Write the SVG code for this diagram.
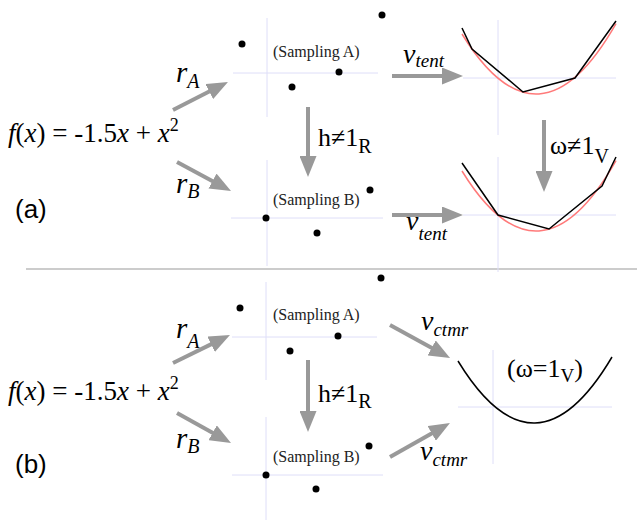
<svg xmlns="http://www.w3.org/2000/svg" width="637" height="520" viewBox="0 0 637 520">
<style>
.serif{font-family:"Liberation Serif","Times New Roman",serif;fill:#000}
.sans{font-family:"Liberation Sans",Arial,sans-serif;fill:#000}
.it{font-style:italic}
.samp{font-family:"Liberation Serif","Times New Roman",serif;font-size:16px;fill:#222}
.axis{stroke:#dedef8;stroke-width:1;fill:none}
.arr{stroke:#999;stroke-width:4;fill:none;marker-end:url(#ah)}
.dot{fill:#000}
.red{stroke:#ff7a7a;stroke-width:1.5;fill:none}
.blk{stroke:#000;stroke-width:1.5;fill:none}
</style>
<defs>
<marker id="ah" viewBox="0 -8.5 21 17" markerWidth="21" markerHeight="17" refX="6" refY="0" markerUnits="userSpaceOnUse" orient="auto">
<path d="M0,-8.5 L21,0 L0,8.5 z" fill="#999"/>
</marker>
</defs>
<rect width="637" height="520" fill="#fff"/>

<!-- separator -->
<line x1="26" y1="269" x2="637" y2="269" stroke="#ccc" stroke-width="2"/>

<!-- ===== Panel (a) ===== -->
<g id="a-func">
<text class="serif" x="8" y="142" font-size="27"><tspan class="it">f</tspan>(<tspan class="it">x</tspan>) = -1.5<tspan class="it">x</tspan> + <tspan class="it">x</tspan><tspan font-size="18" dy="-11">2</tspan></text>
</g>
<g id="a-label"><text class="sans" x="15" y="218" font-size="26">(a)</text></g>

<g id="a-sampA">
<line class="axis" x1="267" y1="18" x2="267" y2="117"/>
<line class="axis" x1="233" y1="73" x2="378" y2="73"/>
<circle class="dot" cx="242" cy="44" r="3.5"/>
<circle class="dot" cx="382" cy="15" r="3.5"/>
<circle class="dot" cx="339" cy="72" r="3.5"/>
<circle class="dot" cx="292" cy="87" r="3.5"/>
<text class="samp" x="273" y="57">(Sampling A)</text>
</g>

<g id="a-sampB">
<line class="axis" x1="267" y1="160" x2="267" y2="266"/>
<line class="axis" x1="231" y1="218" x2="383" y2="218"/>
<circle class="dot" cx="266" cy="218" r="3.5"/>
<circle class="dot" cx="370" cy="190" r="3.5"/>
<circle class="dot" cx="317" cy="233" r="3.5"/>
<text class="samp" x="273" y="205">(Sampling B)</text>
</g>

<g id="a-curveA">
<line class="axis" x1="498" y1="20" x2="498" y2="135"/>
<line class="axis" x1="463" y1="78" x2="616" y2="78"/>
<path class="red" d="M462,34 Q539,159 616,23.6"/>
<polyline class="blk" points="462,28 472,49 523,92 575,78 616,21"/>
</g>

<g id="a-curveB">
<line class="axis" x1="498" y1="157" x2="498" y2="272"/>
<line class="axis" x1="463" y1="215" x2="616" y2="215"/>
<path class="red" d="M462,171 Q539,296 616,160.6"/>
<polyline class="blk" points="462,163 498,215 549,229 602,186 616,157"/>
</g>

<!-- ===== Panel (b) ===== -->
<g id="b-func">
<text class="serif" x="8" y="400" font-size="27"><tspan class="it">f</tspan>(<tspan class="it">x</tspan>) = -1.5<tspan class="it">x</tspan> + <tspan class="it">x</tspan><tspan font-size="18" dy="-11">2</tspan></text>
</g>
<g id="b-label"><text class="sans" x="15" y="473" font-size="26">(b)</text></g>

<g id="b-sampA">
<line class="axis" x1="266" y1="282" x2="266" y2="380"/>
<line class="axis" x1="232" y1="337" x2="377" y2="337"/>
<circle class="dot" cx="240" cy="308" r="3.5"/>
<circle class="dot" cx="381" cy="278" r="3.5"/>
<circle class="dot" cx="338" cy="336" r="3.5"/>
<circle class="dot" cx="290" cy="351" r="3.5"/>
<text class="samp" x="273" y="320">(Sampling A)</text>
</g>

<g id="b-sampB">
<line class="axis" x1="266" y1="417" x2="266" y2="520"/>
<line class="axis" x1="232" y1="475" x2="383" y2="475"/>
<circle class="dot" cx="266" cy="475" r="3.5"/>
<circle class="dot" cx="369" cy="446" r="3.5"/>
<circle class="dot" cx="316" cy="489" r="3.5"/>
<text class="samp" x="273" y="462">(Sampling B)</text>
</g>

<g id="b-curve">
<line class="axis" x1="493" y1="350" x2="493" y2="464"/>
<line class="axis" x1="458" y1="407" x2="612" y2="407"/>
<path class="blk" d="M458,361 Q535,487 612,357"/>
<text class="serif" x="507" y="377" font-size="26">(ω=1<tspan font-size="19" dy="5">V</tspan><tspan dy="-5">)</tspan></text>
</g>

<!-- ===== Connectors ===== -->
<g id="connectors">
<line class="arr" x1="173" y1="110" x2="214.6" y2="88.8"/>
<line class="arr" x1="177" y1="162" x2="217.8" y2="183.9"/>
<line class="arr" x1="308" y1="107" x2="308" y2="162"/>
<line class="arr" x1="392" y1="76" x2="448" y2="76"/>
<line class="arr" x1="544" y1="120" x2="544" y2="177"/>
<line class="arr" x1="392" y1="215" x2="448" y2="215"/>

<line class="arr" x1="173" y1="363" x2="216.5" y2="341.6"/>
<line class="arr" x1="177" y1="413" x2="217.9" y2="435.7"/>
<line class="arr" x1="308" y1="360" x2="308" y2="417"/>
<line class="arr" x1="390" y1="325" x2="436.9" y2="350.8"/>
<line class="arr" x1="390" y1="457" x2="436.9" y2="430.4"/>

<text class="serif it" x="176" y="82" font-size="29">r<tspan font-size="20" dy="6">A</tspan></text>
<text class="serif it" x="176" y="193" font-size="29">r<tspan font-size="20" dy="5">B</tspan></text>
<text class="serif" x="318" y="146" font-size="26">h≠1<tspan font-size="20" dy="7">R</tspan></text>
<text class="serif it" x="403" y="63" font-size="28">v<tspan font-size="19" dy="4">tent</tspan></text>
<text class="serif" x="550" y="154" font-size="26">ω≠1<tspan font-size="20" dy="9">V</tspan></text>
<text class="serif it" x="406" y="230" font-size="28">v<tspan font-size="19" dy="10">tent</tspan></text>

<text class="serif it" x="176" y="338" font-size="29">r<tspan font-size="20" dy="10">A</tspan></text>
<text class="serif it" x="176" y="448" font-size="29">r<tspan font-size="20" dy="5">B</tspan></text>
<text class="serif" x="318" y="402" font-size="26">h≠1<tspan font-size="20" dy="6">R</tspan></text>
<text class="serif it" x="421" y="330" font-size="28">v<tspan font-size="19" dy="6">ctmr</tspan></text>
<text class="serif it" x="420" y="460" font-size="28">v<tspan font-size="19" dy="6">ctmr</tspan></text>
</g>
</svg>
